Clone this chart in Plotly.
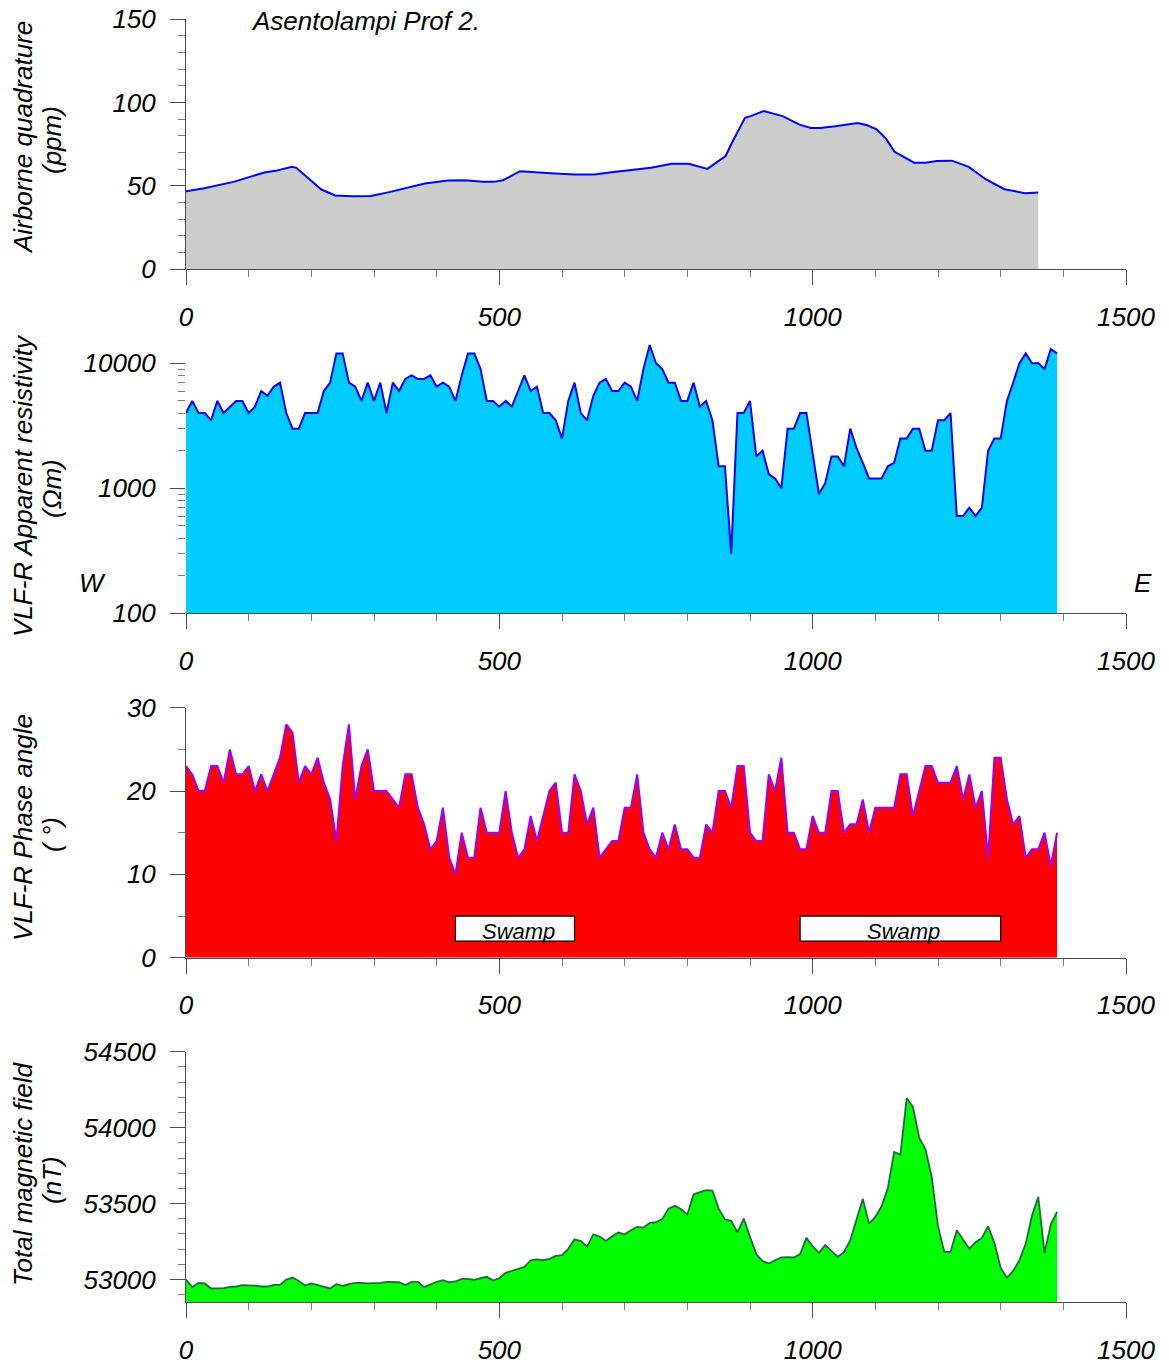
import plotly.graph_objects as go

W, H = 1169, 1365

# ---------------- data ----------------
quad_dist = [0, 27, 76, 125, 143, 169, 176, 216, 238, 265, 295, 326, 381, 418, 445, 473, 491, 506,
             533, 558, 582, 619, 652, 676, 712, 742, 775, 802, 832, 861, 871, 892, 901, 922, 952,
             979, 997, 1012, 1036, 1072, 1087, 1102, 1117, 1131, 1162, 1180, 1198, 1222, 1249,
             1276, 1306, 1339, 1360]
quad_ppm = [46.8, 48.4, 52.4, 58.0, 59.0, 61.4, 60.8, 47.8, 44.2, 43.8, 44.0, 46.4, 51.4, 53.2, 53.4,
            52.4, 52.4, 53.4, 58.8, 58.0, 57.6, 56.8, 56.8, 58.0, 59.4, 60.8, 63.3, 63.3, 60.2, 67.9,
            75.7, 90.8, 91.8, 94.8, 91.8, 86.7, 84.7, 84.7, 85.7, 87.6, 86.3, 83.9, 78.3, 70.3, 63.9,
            63.9, 64.9, 65.1, 61.4, 54.0, 48.0, 45.6, 46.0]

station = [0, 10, 20, 30, 40, 50, 60, 70, 80, 90,
           100, 110, 120, 130, 140, 150, 160, 170, 180, 190,
           200, 210, 220, 230, 240, 250, 260, 270, 280, 290,
           300, 310, 320, 330, 340, 350, 360, 370, 380, 390,
           400, 410, 420, 430, 440, 450, 460, 470, 480, 490,
           500, 510, 520, 530, 540, 550, 560, 570, 580, 590,
           600, 610, 620, 630, 640, 650, 660, 670, 680, 690,
           700, 710, 720, 730, 740, 750, 760, 770, 780, 790,
           800, 810, 820, 830, 840, 850, 860, 870, 880, 890,
           900, 910, 920, 930, 940, 950, 960, 970, 980, 990,
           1000, 1010, 1020, 1030, 1040, 1050, 1060, 1070, 1080, 1090,
           1100, 1110, 1120, 1130, 1140, 1150, 1160, 1170, 1180, 1190,
           1200, 1210, 1220, 1230, 1240, 1250, 1260, 1270, 1280, 1290,
           1300, 1310, 1320, 1330, 1340, 1350, 1360, 1370, 1380, 1390]

resistivity = [4000, 5000, 4000, 4000, 3500, 5000, 4000, 4500, 5000, 5000,
               4000, 4500, 6000, 5500, 6500, 7000, 4000, 3000, 3000, 4000,
               4000, 4000, 6000, 7000, 12000, 12000, 7000, 6500, 5000, 7000,
               5000, 7000, 4000, 7000, 6000, 7500, 8000, 7500, 7500, 8000,
               6500, 7000, 6500, 5000, 8000, 12000, 12000, 9000, 5000, 5000,
               4500, 5000, 4500, 6000, 8000, 6000, 6500, 4000, 4000, 3500,
               2500, 5000, 7000, 4000, 3500, 5500, 7000, 7500, 6000, 6000,
               7000, 6500, 5000, 9000, 14000, 10000, 9000, 7000, 7000, 5000,
               5000, 7000, 4500, 5000, 3500, 1500, 1500, 300, 4000, 4000,
               5000, 1800, 2000, 1300, 1200, 1000, 3000, 3000, 4000, 4000,
               1900, 900, 1100, 1800, 1800, 1500, 3000, 2100, 1600, 1200,
               1200, 1200, 1500, 1600, 2500, 2500, 3000, 3000, 2000, 2000,
               3500, 3500, 4000, 600, 600, 700, 600, 700, 2000, 2500,
               2500, 5000, 7000, 10000, 12000, 10000, 10000, 9000, 13000, 12000]

phase = [23, 22, 20, 20, 23, 23, 21, 25, 22, 22,
         23, 20, 22, 20, 22, 24, 28, 27, 21, 23,
         22, 24, 21, 19, 14, 23, 28, 19, 23, 25,
         20, 20, 20, 19, 18, 22, 22, 18, 16, 13,
         14, 18, 12, 10, 15, 12, 12, 18, 15, 15,
         15, 20, 15, 12, 13, 17, 14, 17, 20, 21,
         15, 15, 22, 20, 16, 18, 12, 13, 14, 14,
         18, 18, 22, 15, 13, 12, 15, 13, 16, 13,
         13, 12, 12, 16, 15, 20, 20, 18, 23, 23,
         15, 14, 14, 22, 20, 24, 15, 15, 13, 13,
         17, 15, 15, 20, 20, 15, 16, 16, 19, 15,
         18, 18, 18, 18, 22, 22, 17, 20, 23, 23,
         21, 21, 21, 23, 19, 22, 18, 20, 12, 24,
         24, 19, 16, 17, 12, 13, 13, 15, 11, 15]

magnetic = [53000, 52950, 52978, 52974, 52941, 52941, 52943, 52952, 52954, 52963,
            52963, 52960, 52954, 52954, 52965, 52965, 53000, 53013, 52991, 52960,
            52974, 52963, 52952, 52941, 52969, 52958, 52969, 52978, 52978, 52974,
            52976, 52978, 52985, 52985, 52982, 52963, 52985, 52985, 52950, 52967,
            52985, 52996, 52982, 52987, 53004, 53004, 52998, 53009, 53018, 52993,
            53009, 53044, 53057, 53066, 53083, 53127, 53132, 53127, 53136, 53156,
            53160, 53202, 53265, 53254, 53217, 53298, 53283, 53254, 53285, 53309,
            53298, 53325, 53346, 53342, 53373, 53377, 53399, 53467, 53485, 53463,
            53428, 53561, 53577, 53588, 53586, 53467, 53395, 53386, 53311, 53401,
            53281, 53167, 53121, 53105, 53127, 53145, 53147, 53145, 53167, 53274,
            53219, 53175, 53226, 53186, 53149, 53180, 53259, 53395, 53531, 53368,
            53412, 53482, 53603, 53840, 53822, 54195, 54136, 53934, 53857, 53675,
            53351, 53182, 53182, 53325, 53263, 53202, 53246, 53274, 53351, 53241,
            53077, 53011, 53057, 53127, 53237, 53421, 53544, 53175, 53364, 53445]

swamp_start = [430, 980]
swamp_end = [620, 1300]
swamp_label = ["Swamp", "Swamp"]

x_ticks = [0, 500, 1000, 1500]
y1_ticks = [0, 50, 100, 150]
y2_ticks = [100, 1000, 10000]
y2_minor = [200, 300, 400, 500, 600, 700, 800, 900, 2000, 3000, 4000, 5000, 6000, 7000, 8000, 9000]
y3_ticks = [0, 10, 20, 30]
y4_ticks = [53000, 53500, 54000, 54500]

# ---------------- layout helpers ----------------
FONT = "Liberation Sans, Arial, sans-serif"
AX = "#4d4d4d"
MINOR = "#7f7f7f"

def py(px):
    return 1 - px / H

x_dom = [186 / W, 1126 / W]
doms = [
    [py(269.3), py(19.0)],
    [py(613.3), py(338.3)],
    [py(957.7), py(707.7)],
    [py(1302.3), py(1051.7)],
]

fig = go.Figure()

fig.add_trace(go.Scatter(x=quad_dist, y=quad_ppm, mode="lines", fill="tozeroy",
                         fillcolor="#cccccc", line=dict(color="#0000ff", width=2),
                         xaxis="x", yaxis="y", showlegend=False))
fig.add_trace(go.Scatter(x=station, y=resistivity, mode="lines", fill="tozeroy",
                         fillcolor="#00ccff", line=dict(color="#0000ff", width=2),
                         xaxis="x2", yaxis="y2", showlegend=False))
fig.add_trace(go.Scatter(x=station, y=phase, mode="lines", fill="tozeroy",
                         fillcolor="#ff0000", line=dict(color="#9900ff", width=2),
                         xaxis="x3", yaxis="y3", showlegend=False))
fig.add_trace(go.Scatter(x=station, y=magnetic, mode="lines", fill="tozeroy",
                         fillcolor="#00ff00", line=dict(color="#1f6b3a", width=1.8),
                         xaxis="x4", yaxis="y4", showlegend=False))

tickfont = dict(family=FONT, size=26, color="black", style="italic")

def xaxis(anchor):
    return dict(domain=x_dom, anchor=anchor, range=[0, 1500], tickmode="array",
                tickvals=x_ticks, ticktext=[str(v) for v in x_ticks],
                ticks="outside", ticklen=15, tickcolor=AX, tickwidth=1,
                showline=True, linecolor=AX, linewidth=1, showgrid=False, zeroline=False,
                tickfont=tickfont, ticklabelstandoff=9, automargin=False,
                minor=dict(tickmode="linear", tick0=0, dtick=100, ticks="outside",
                           ticklen=7, tickcolor=MINOR, showgrid=False))

def yaxis(anchor, dom, rng, vals, minor_dtick=None, minor_vals=None, typ="linear", showline=True):
    d = dict(domain=dom, anchor=anchor, range=rng, type=typ, tickmode="array",
             tickvals=vals, ticktext=[str(v) for v in vals],
             ticks="outside", ticklen=15, tickcolor=AX, tickwidth=1,
             showline=showline, linecolor=AX, linewidth=1, showgrid=False, zeroline=False,
             tickfont=tickfont, ticklabelstandoff=9, automargin=False)
    if minor_vals is not None:
        d["minor"] = dict(tickmode="array", tickvals=minor_vals, ticks="outside",
                          ticklen=7, tickcolor=MINOR, showgrid=False)
    else:
        d["minor"] = dict(tickmode="linear", tick0=vals[0], dtick=minor_dtick, ticks="outside",
                          ticklen=7, tickcolor=MINOR, showgrid=False)
    return d

fig.update_layout(
    width=W, height=H, margin=dict(l=0, r=0, t=0, b=0, autoexpand=False),
    paper_bgcolor="white", plot_bgcolor="white",
    xaxis=xaxis("y"), xaxis2=xaxis("y2"), xaxis3=xaxis("y3"), xaxis4=xaxis("y4"),
    yaxis=yaxis("x", doms[0], [0, 150], y1_ticks, minor_dtick=10),
    yaxis2=yaxis("x2", doms[1], [2, 4.2], y2_ticks, minor_vals=y2_minor, typ="log", showline=False),
    yaxis3=yaxis("x3", doms[2], [0, 30], y3_ticks, minor_dtick=5),
    yaxis4=yaxis("x4", doms[3], [52850, 54500], y4_ticks, minor_dtick=100),
)
fig.layout.yaxis4.minor.tick0 = 52900

shapes = []
# y axis line of log panel, only from 100 to 10000
shapes.append(dict(type="line", xref="x2", yref="y2", x0=0, x1=0, y0=2, y1=4,
                   line=dict(color=AX, width=1)))
for s0, s1 in zip(swamp_start, swamp_end):
    shapes.append(dict(type="rect", xref="x3", yref="y3", x0=s0, x1=s1, y0=2, y1=5,
                       fillcolor="white", line=dict(color="black", width=1.2), layer="above"))
fig.update_layout(shapes=shapes)

title_font = dict(family=FONT, size=26, color="black", style="italic")
ann = []
ann.append(dict(text="Asentolampi Prof 2.", xref="paper", yref="paper",
                x=249 / W, y=py(21), xanchor="left", yanchor="middle",
                showarrow=False, font=title_font))
axis_titles = [
    ("Airborne quadrature", "(ppm)", 138, 140),
    ("VLF-R Apparent resistivity", "(Ωm)", 486, 489),
    ("VLF-R Phase angle", "( °)", 828, 835),
    ("Total magnetic field", "(nT)", 1174, 1180),
]
for line1, line2, yc1, yc2 in axis_titles:
    ann.append(dict(text=line1, xref="paper", yref="paper", x=23 / W, y=py(yc1),
                    xanchor="center", yanchor="middle", textangle=-90,
                    showarrow=False, font=title_font))
    ann.append(dict(text=line2, xref="paper", yref="paper", x=52 / W, y=py(yc2),
                    xanchor="center", yanchor="middle", textangle=-90,
                    showarrow=False, font=title_font))
ann.append(dict(text="W", xref="paper", yref="paper", x=92 / W, y=py(583),
                xanchor="center", yanchor="middle", showarrow=False, font=title_font))
ann.append(dict(text="E", xref="paper", yref="paper", x=1143 / W, y=py(583),
                xanchor="center", yanchor="middle", showarrow=False, font=title_font))
for s0, s1, lab in zip(swamp_start, swamp_end, swamp_label):
    ann.append(dict(text=lab, xref="x3", yref="y3", x=(s0 + s1) / 2 + 5, y=3.1,
                    xanchor="center", yanchor="middle", showarrow=False,
                    font=dict(family=FONT, size=22, color="black", style="italic")))
fig.update_layout(annotations=ann)

fig.write_html("out.html")
